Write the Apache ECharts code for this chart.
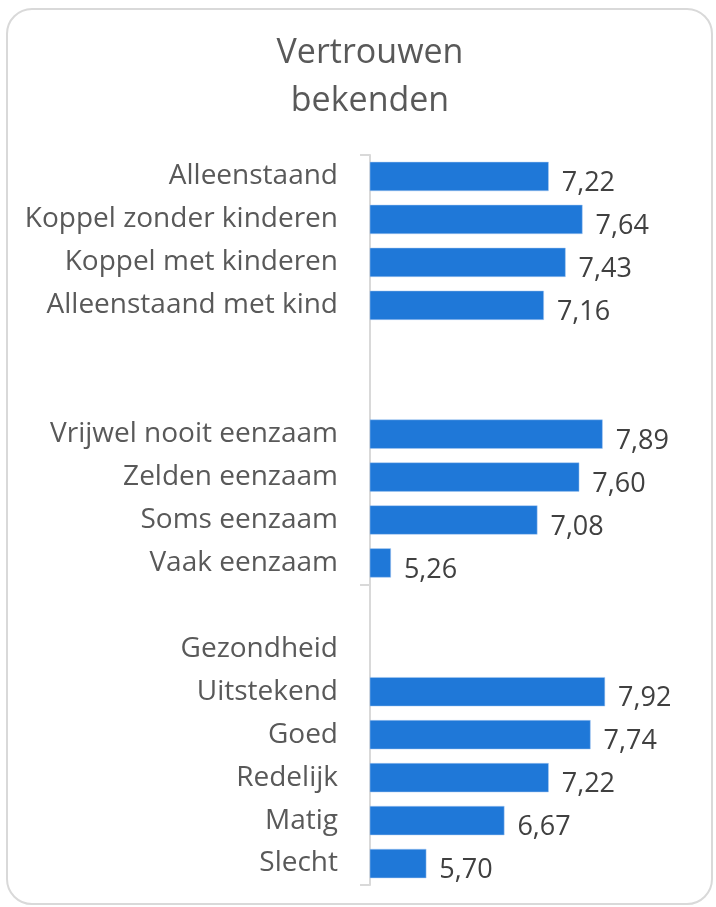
<!DOCTYPE html>
<html>
<head>
<meta charset="utf-8">
<script src="https://cdn.jsdelivr.net/npm/echarts@6/dist/echarts.min.js"></script>
<style>
  html, body { margin: 0; padding: 0; background: #fff; }
  #frame {
    position: absolute; left: 6px; top: 8px; width: 707px; height: 897px;
    border: 2px solid #d9d9d9; border-radius: 26px; box-sizing: border-box;
  }
  #chart { position: absolute; left: 0; top: 0; width: 716px; height: 907px; }
</style>
</head>
<body>
<div id="frame"></div>
<div id="chart"></div>
<script>
// categorieën van boven naar beneden (lege regels = scheiding tussen groepen)
const categories = [
  'Alleenstaand', 'Koppel zonder kinderen', 'Koppel met kinderen', 'Alleenstaand met kind',
  ' ', '  ',
  'Vrijwel nooit eenzaam', 'Zelden eenzaam', 'Soms eenzaam', 'Vaak eenzaam',
  '   ',
  'Gezondheid', 'Uitstekend', 'Goed', 'Redelijk', 'Matig', 'Slecht'
];
const scores = [
  7.22, 7.64, 7.43, 7.16,
  null, null,
  7.89, 7.60, 7.08, 5.26,
  null,
  null, 7.92, 7.74, 7.22, 6.67, 5.70
];
const titleText = 'Vertrouwen\nbekenden';

const myChart = echarts.init(document.getElementById('chart'), null, { renderer: 'canvas' });

const option = {
  backgroundColor: 'transparent',
  animation: false,
  title: {
    text: titleText,
    left: 365,
    top: 24,
    textAlign: 'center',
    textStyle: {
      fontFamily: 'Open Sans',
      fontWeight: 'normal',
      fontSize: 34,
      lineHeight: 48,
      color: '#595959'
    }
  },
  grid: { left: 370, right: 24, top: 155, bottom: 22, containLabel: false },
  xAxis: {
    type: 'value',
    min: 5,
    max: 9,
    show: false
  },
  yAxis: {
    type: 'category',
    data: categories,
    inverse: true,
    axisLine: { show: true, lineStyle: { color: '#d9d9d9', width: 2 } },
    axisTick: {
      show: true,
      length: 10,
      interval: (i) => i === 0 || i === 10,
      lineStyle: { color: '#d9d9d9', width: 2 }
    },
    axisLabel: {
      margin: 32,
      fontFamily: 'Open Sans',
      fontSize: 28,
      color: '#595959'
    }
  },
  series: [{
    type: 'bar',
    data: scores,
    barCategoryGap: '32%',
    itemStyle: { color: '#1f78d8', borderColor: '#a9c9f0', borderWidth: 0.5 },
    label: {
      show: true,
      position: 'right',
      distance: 13,
      offset: [0, 7],
      fontFamily: 'Open Sans',
      fontSize: 27,
      color: '#404040',
      formatter: (p) => p.value.toFixed(2).replace('.', ',')
    }
  }]
};

myChart.setOption(option);
</script>
</body>
</html>
